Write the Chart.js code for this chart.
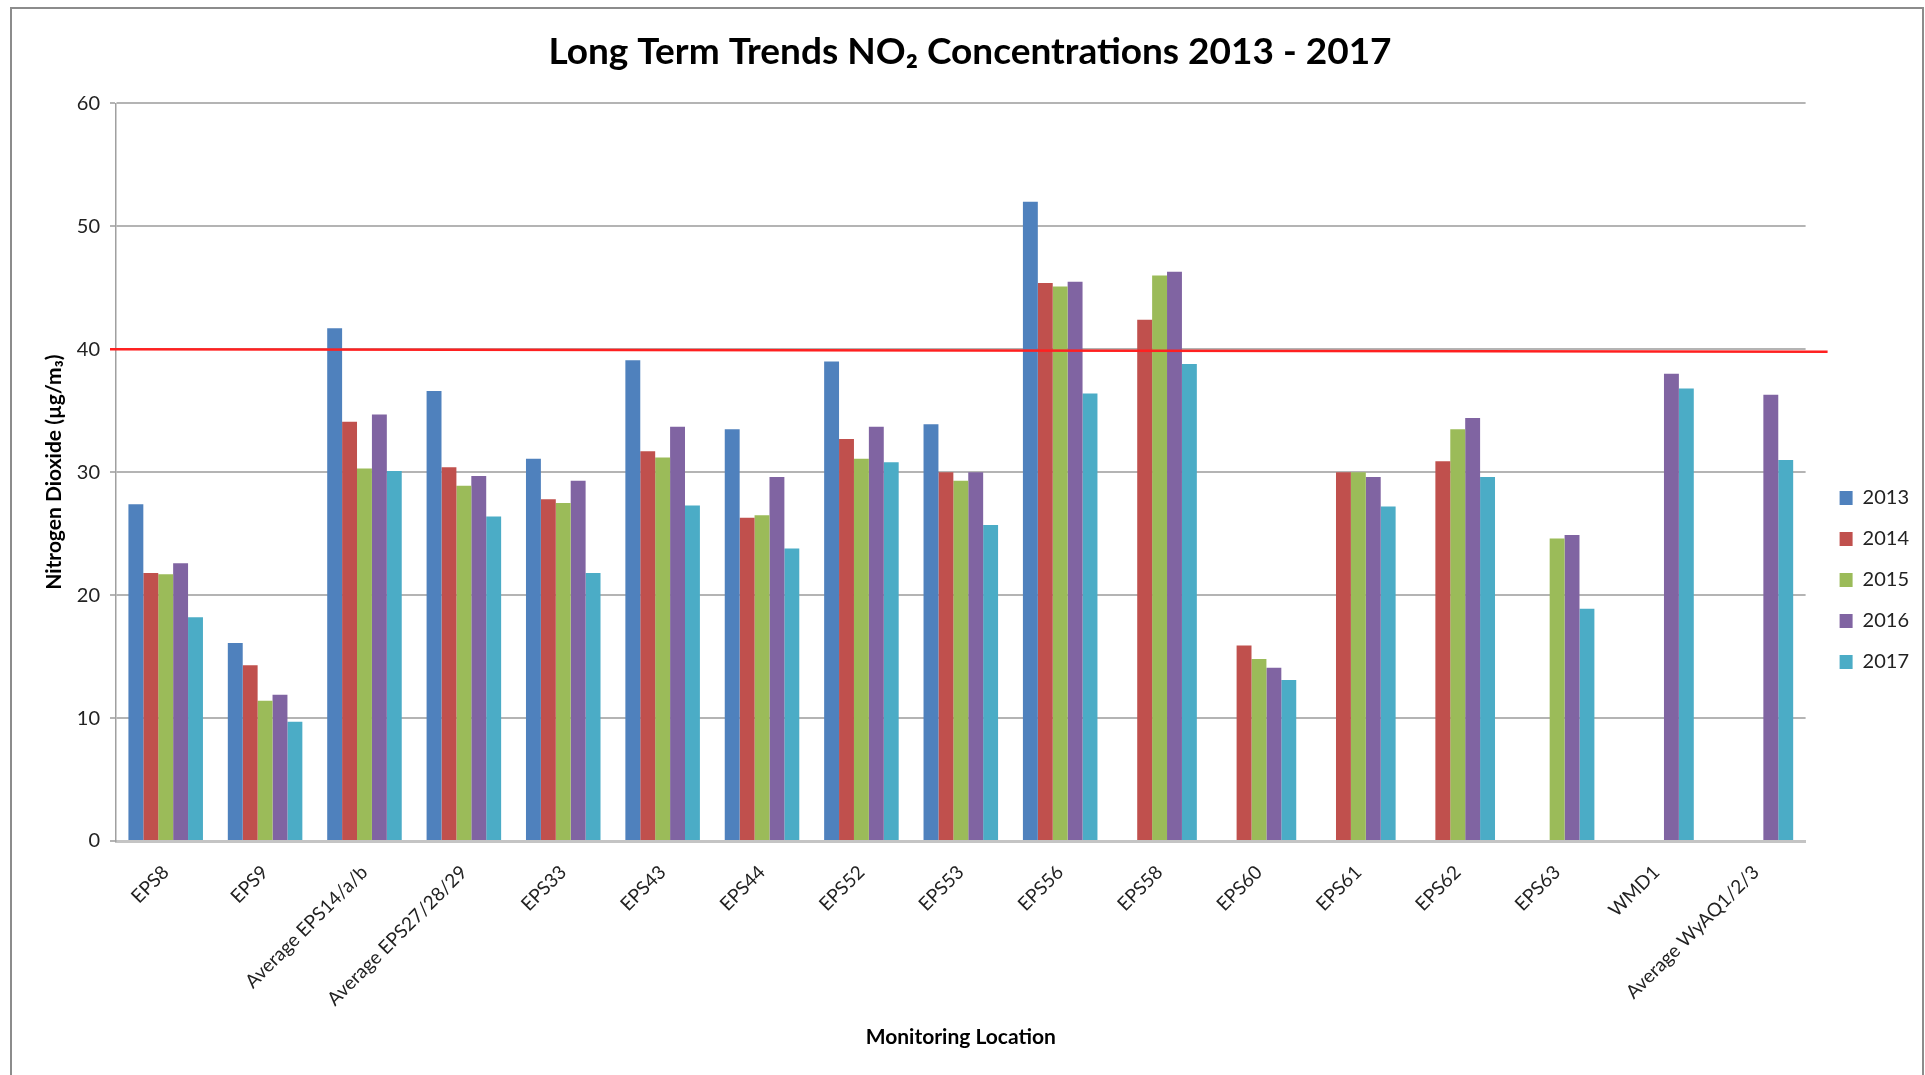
<!DOCTYPE html>
<html>
<head>
<meta charset="utf-8">
<script src="https://cdn.jsdelivr.net/npm/chart.js@4.4.0/dist/chart.umd.min.js"></script>
<style>
    html, body { margin: 0; padding: 0; background: #fff; }
    #wrap { position: relative; width: 1925px; height: 1075px; }
</style>
</head>
<body>
<div id="wrap"><canvas id="no2Chart" width="1925" height="1075"></canvas></div>
<script>
const locations = ["EPS8", "EPS9", "Average EPS14/a/b", "Average EPS27/28/29", "EPS33", "EPS43", "EPS44",
    "EPS52", "EPS53", "EPS56", "EPS58", "EPS60", "EPS61", "EPS62", "EPS63", "WMD1", "Average WyAQ1/2/3"];
const years = ["2013", "2014", "2015", "2016", "2017"];

const no2_2013 = [27.4, 16.1, 41.7, 36.6, 31.1, 39.1, 33.5, 39.0, 33.9, 52.0, null, null, null, null, null, null, null];
const no2_2014 = [21.8, 14.3, 34.1, 30.4, 27.8, 31.7, 26.3, 32.7, 30.0, 45.4, 42.4, 15.9, 30.0, 30.9, null, null, null];
const no2_2015 = [21.7, 11.4, 30.3, 28.9, 27.5, 31.2, 26.5, 31.1, 29.3, 45.1, 46.0, 14.8, 30.0, 33.5, 24.6, null, null];
const no2_2016 = [22.6, 11.9, 34.7, 29.7, 29.3, 33.7, 29.6, 33.7, 30.0, 45.5, 46.3, 14.1, 29.6, 34.4, 24.9, 38.0, 36.3];
const no2_2017 = [18.2, 9.7, 30.1, 26.4, 21.8, 27.3, 23.8, 30.8, 25.7, 36.4, 38.8, 13.1, 27.2, 29.6, 18.9, 36.8, 31.0];

const yMin = 0, yMax = 60, yStep = 10;
const limitValue = 40; // annual mean objective

const seriesValues = [no2_2013, no2_2014, no2_2015, no2_2016, no2_2017];
const colours = ["#4F81BD", "#C0504D", "#9BBB59", "#8064A2", "#4BACC6"];

const FONT = "Lato, 'Open Sans', 'DejaVu Sans', sans-serif";

/* ---------------- EXTRAS: frame, legend placement, limit line ---------------- */

const extras = {
    id: "extras",
    beforeDraw(chart) {
        const ctx = chart.ctx;
        ctx.save();
        ctx.fillStyle = "#fff";
        ctx.fillRect(0, 0, chart.width, chart.height);
        ctx.strokeStyle = "#8c8c8c";
        ctx.lineWidth = 2;
        ctx.strokeRect(11, 8, chart.width - 13, chart.height + 20);
        ctx.restore();
    },
    afterLayout(chart) {
        const lg = chart.legend;
        const h = lg.bottom - lg.top;
        lg.left = chart.chartArea.right + 13;
        lg.right = lg.left + lg.width;
        lg.top = 467;
        lg.bottom = lg.top + h;
        // title sits a little right of centre in the original
        chart.titleBlock.left += 12;
        chart.titleBlock.right += 12;
    },
    afterDatasetsDraw(chart) {
        const ctx = chart.ctx;
        const a = chart.chartArea;
        const y = chart.scales.y;
        ctx.save();
        ctx.strokeStyle = "#ff2020";
        ctx.lineWidth = 2.5;
        ctx.beginPath();
        ctx.moveTo(a.left - 6, y.getPixelForValue(limitValue));
        ctx.lineTo(a.right + 22, y.getPixelForValue(limitValue - 0.2));
        ctx.stroke();
        ctx.restore();
    }
};

new Chart(document.getElementById("no2Chart"), {
    type: "bar",
    data: {
        labels: locations,
        datasets: years.map((yr, i) => ({
            label: yr,
            data: seriesValues[i],
            backgroundColor: colours[i],
            borderWidth: 0,
            barPercentage: 1,
            categoryPercentage: 0.75
        }))
    },
    options: {
        responsive: false,
        animation: false,
        devicePixelRatio: 1,
        layout: { padding: { left: 10, right: 19, top: 0, bottom: 0 } },
        plugins: {
            title: {
                display: true,
                text: "Long Term Trends NO\u2082 Concentrations 2013 - 2017",
                color: "#000",
                font: { family: FONT, size: 37, weight: "bold" },
                padding: { top: 30, bottom: 29 }
            },
            legend: {
                position: "right",
                align: "start",
                labels: {
                    color: "#222",
                    font: { family: FONT, size: 20 },
                    boxWidth: 13,
                    boxHeight: 14,
                    padding: 21
                }
            },
            tooltip: { enabled: false }
        },
        scales: {
            x: {
                grid: { display: false },
                border: { display: true, color: "#c4c4c4", width: 3 },
                ticks: {
                    autoSkip: false,
                    minRotation: 45,
                    maxRotation: 45,
                    padding: 12,
                    color: "#222",
                    font: { family: FONT, size: 19 }
                },
                title: {
                    display: true,
                    text: "Monitoring Location",
                    color: "#000",
                    font: { family: FONT, size: 21, weight: "bold" },
                    padding: { top: 4, bottom: 25 }
                },
                afterFit(scale) { scale.height = 234; }
            },
            y: {
                min: yMin,
                max: yMax,
                ticks: {
                    stepSize: yStep,
                    padding: 10,
                    color: "#222",
                    font: { family: FONT, size: 20 }
                },
                grid: { color: "#b4b4b4", lineWidth: 2, tickLength: 6 },
                border: { display: true, color: "#a0a0a0", width: 1.5 },
                title: {
                    display: true,
                    text: "Nitrogen Dioxide (\u00b5g/m\u2083)",
                    color: "#000",
                    font: { family: FONT, size: 21, weight: "bold" },
                    padding: { top: 32, bottom: 0 }
                },
                afterFit(scale) { scale.width = 106; }
            }
        }
    },
    plugins: [extras]
});
</script>
</body>
</html>
